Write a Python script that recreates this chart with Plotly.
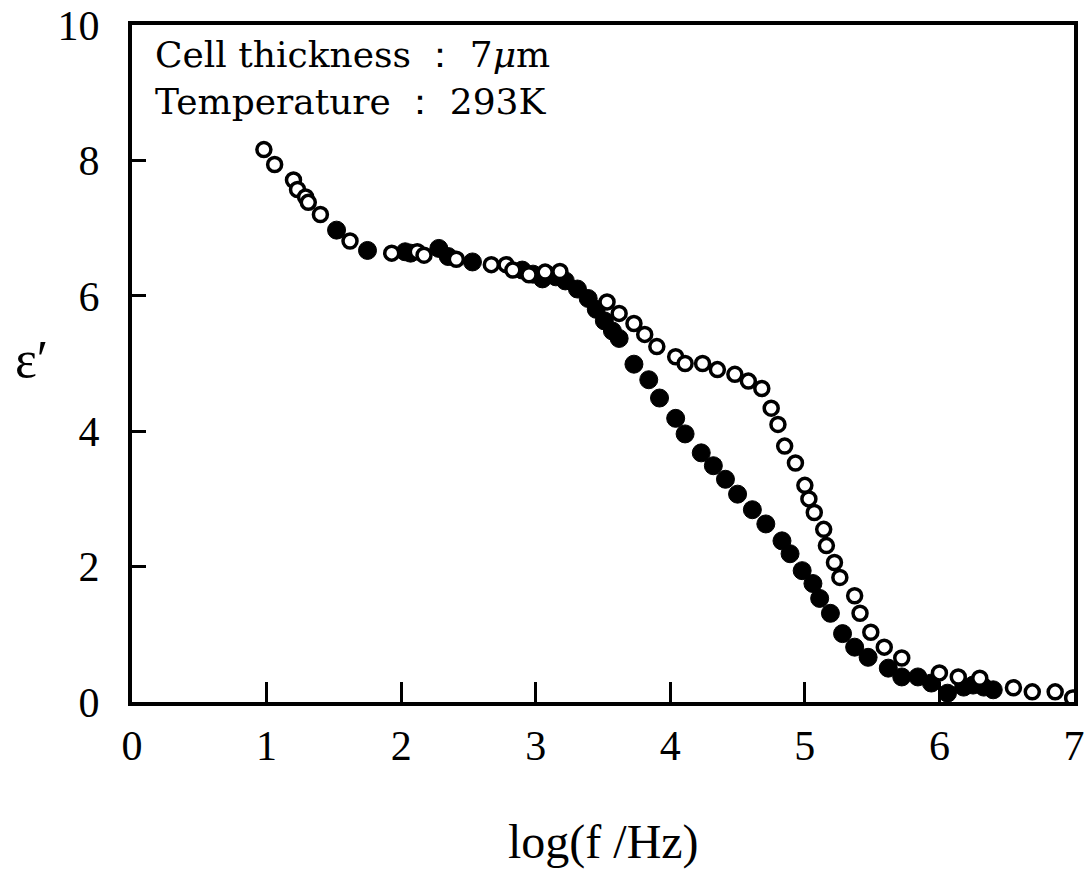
import plotly.graph_objects as go

# Open circles
open_x = [0.98, 1.06, 1.20, 1.23, 1.29, 1.31, 1.40, 1.62, 1.93, 2.12, 2.17, 2.41, 2.67, 2.78,
          2.83, 2.95, 3.07, 3.18, 3.53, 3.62, 3.73, 3.81, 3.90, 4.04, 4.11, 4.24, 4.35, 4.48,
          4.58, 4.68, 4.75, 4.80, 4.85, 4.93, 5.00, 5.03, 5.07, 5.14, 5.16, 5.22, 5.26, 5.37,
          5.41, 5.49, 5.59, 5.72, 6.00, 6.14, 6.30, 6.55, 6.69, 6.86, 6.99]
open_y = [8.16, 7.94, 7.71, 7.57, 7.46, 7.38, 7.20, 6.81, 6.63, 6.65, 6.60, 6.54, 6.46, 6.46,
          6.38, 6.31, 6.35, 6.36, 5.91, 5.74, 5.59, 5.43, 5.25, 5.10, 5.00, 5.00, 4.91, 4.84,
          4.74, 4.63, 4.34, 4.10, 3.78, 3.53, 3.20, 3.00, 2.80, 2.55, 2.31, 2.06, 1.84, 1.57,
          1.31, 1.03, 0.81, 0.65, 0.43, 0.37, 0.35, 0.21, 0.15, 0.15, 0.06]

# Filled circles
filled_x = [1.52, 1.75, 2.03, 2.07, 2.28, 2.35, 2.53, 2.90, 2.98, 3.05, 3.09, 3.15, 3.22, 3.31,
            3.39, 3.45, 3.51, 3.57, 3.62, 3.73, 3.84, 3.92, 4.04, 4.11, 4.23, 4.32, 4.41, 4.50,
            4.61, 4.71, 4.83, 4.89, 4.98, 5.06, 5.11, 5.19, 5.28, 5.37, 5.47, 5.62, 5.72, 5.84,
            5.94, 6.06, 6.18, 6.25, 6.33, 6.40]
filled_y = [6.97, 6.67, 6.65, 6.63, 6.70, 6.58, 6.50, 6.38, 6.32, 6.25, 6.31, 6.28, 6.22, 6.10,
            5.96, 5.80, 5.63, 5.48, 5.37, 4.99, 4.76, 4.49, 4.19, 3.96, 3.68, 3.49, 3.29, 3.07,
            2.84, 2.63, 2.38, 2.19, 1.94, 1.75, 1.53, 1.31, 1.01, 0.81, 0.66, 0.50, 0.37, 0.37,
            0.28, 0.13, 0.22, 0.25, 0.22, 0.18]

x_ticks = [0, 1, 2, 3, 4, 5, 6, 7]
y_ticks = [0, 2, 4, 6, 8, 10]

note_lines = ["Cell thickness ： 7<i>μ</i>m", "Temperature ： 293K"]

FONT = "Liberation Serif"
NOTE_FONT = "DejaVu Serif"

fig = go.Figure()
fig.add_trace(go.Scatter(
    x=filled_x, y=filled_y, mode="markers",
    marker=dict(symbol="circle", size=18, color="black", line=dict(color="black", width=1)),
    showlegend=False))
fig.add_trace(go.Scatter(
    x=open_x, y=open_y, mode="markers",
    marker=dict(symbol="circle", size=14, color="white", line=dict(color="black", width=3.5)),
    showlegend=False))

fig.update_layout(
    width=1088, height=872,
    margin=dict(l=132, r=3, t=22, b=170),
    paper_bgcolor="white", plot_bgcolor="white",
    font=dict(family=FONT, color="black", size=42),
    xaxis=dict(range=[0, 7], tickvals=x_ticks, ticktext=[str(v) for v in x_ticks],
               showgrid=False, zeroline=False, showline=True, linecolor="black", linewidth=4,
               mirror=True, ticks="inside", ticklen=20, tickwidth=3, tickcolor="black",
               ticklabelstandoff=4, ticklabeloverflow="allow",
               tickfont=dict(family=FONT, size=42)),
    yaxis=dict(range=[0, 10], tickvals=y_ticks, ticktext=[str(v) for v in y_ticks],
               showgrid=False, zeroline=False, showline=True, linecolor="black", linewidth=4,
               mirror=True, ticks="inside", ticklen=14, tickwidth=3, tickcolor="black",
               ticklabelstandoff=20, ticklabeloverflow="allow",
               tickfont=dict(family=FONT, size=42)),
    annotations=[
        dict(text="<br>".join(note_lines),
             xref="paper", yref="paper", x=0.022, y=0.99, xanchor="left", yanchor="top",
             align="left", showarrow=False, font=dict(family=NOTE_FONT, size=36)),
        dict(text="log(f /Hz)", xref="paper", yref="paper", x=0.5, y=-0.207,
             xanchor="center", yanchor="middle", showarrow=False,
             font=dict(family=FONT, size=48)),
        dict(text="ε′", xref="paper", yref="paper", x=-0.107, y=0.506,
             xanchor="center", yanchor="middle", showarrow=False,
             font=dict(family=FONT, size=52)),
    ],
)

fig.write_html("out.html")
